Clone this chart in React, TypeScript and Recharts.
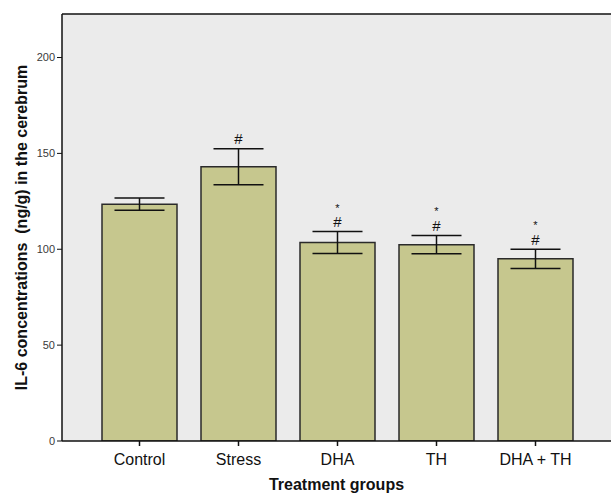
import React from "react";
import {
  BarChart,
  Bar,
  XAxis,
  YAxis,
  ErrorBar,
  LabelList,
  ReferenceLine,
  CartesianGrid,
  Label,
} from "recharts";

const groups = ["Control", "Stress", "DHA", "TH", "DHA + TH"];
const means = [123.5, 143.0, 103.5, 102.4, 95.0];
const errors = [3.2, 9.4, 5.7, 4.8, 5.0];
const hashMarks = ["", "#", "#", "#", "#"];
const starMarks = ["", "", "*", "*", "*"];
const yTicks = [0, 50, 100, 150, 200];
const yMax = 222.7;

const data = groups.map((g, i) => ({
  group: g,
  mean: means[i],
  err: errors[i],
  hash: hashMarks[i],
  star: starMarks[i],
}));

const FONT = "'Liberation Sans', Arial, sans-serif";

const SigLabel = (props: any) => {
  const { x, y, width, height, index } = props;
  const d = data[index];
  if (!d) return null;
  const ppu = height / d.mean;
  const errTop = y - d.err * ppu;
  const cx = x + width / 2;
  return (
    <g>
      {d.hash && (
        <text x={cx} y={errTop - 4.5} textAnchor="middle" fontFamily={FONT} fontSize={15} fill="#111">
          {d.hash}
        </text>
      )}
      {d.star && (
        <text x={cx} y={errTop - 20} textAnchor="middle" fontFamily={FONT} fontSize={11} fill="#111">
          {d.star}
        </text>
      )}
    </g>
  );
};

const YTitle = (props: any) => {
  const cx = 21;
  const cy = 227.5;
  return (
    <text
      x={cx}
      y={cy}
      transform={`rotate(-90, ${cx}, ${cy})`}
      textAnchor="middle"
      dominantBaseline="central"
      fontFamily={FONT}
      fontSize={16}
      fontWeight="bold"
      fill="#111"
      style={{ whiteSpace: "pre" }}
    >
      {"IL-6 concentrations\u00a0\u00a0(ng/g) in the cerebrum"}
    </text>
  );
};

export default function App() {
  return (
    <div style={{ position: "absolute", left: 0, top: 0, width: 611, height: 493, background: "#fff" }}>
      <BarChart
        width={611}
        height={493}
        data={data}
        margin={{ top: 14, right: 0, bottom: 0, left: 0 }}
        barCategoryGap={12}
      >
        <CartesianGrid fill="#ebebeb" vertical={false} horizontal={false} />
        <XAxis
          dataKey="group"
          height={52}
          padding={{ left: 28, right: 26 }}
          axisLine={{ stroke: "#111", strokeWidth: 1.5 }}
          tickLine={{ stroke: "#111", strokeWidth: 1.5 }}
          tickSize={5}
          tickMargin={8}
          tick={{ fontFamily: FONT, fontSize: 16, fill: "#111" }}
          interval={0}
        >
          <Label
            value="Treatment groups"
            position="insideBottom"
            offset={3}
            style={{ fontFamily: FONT, fontSize: 16, fontWeight: "bold", fill: "#111" }}
          />
        </XAxis>
        <YAxis
          width={62}
          domain={[0, yMax]}
          ticks={yTicks}
          allowDataOverflow
          axisLine={{ stroke: "#111", strokeWidth: 1.5 }}
          tickLine={{ stroke: "#111", strokeWidth: 1 }}
          tickSize={5}
          tickMargin={2}
          tick={{ fontFamily: FONT, fontSize: 11, fill: "#3a3a3a" }}
          label={<YTitle />}
        />
        <ReferenceLine y={yMax} stroke="#111" strokeWidth={1.5} />
        <Bar dataKey="mean" fill="#c6c78e" stroke="#2a2a2a" strokeWidth={1.5} isAnimationActive={false}>
          <ErrorBar dataKey="err" width={25} stroke="#111" strokeWidth={1.5} direction="y" />
          <LabelList dataKey="mean" content={<SigLabel />} />
        </Bar>
      </BarChart>
    </div>
  );
}
